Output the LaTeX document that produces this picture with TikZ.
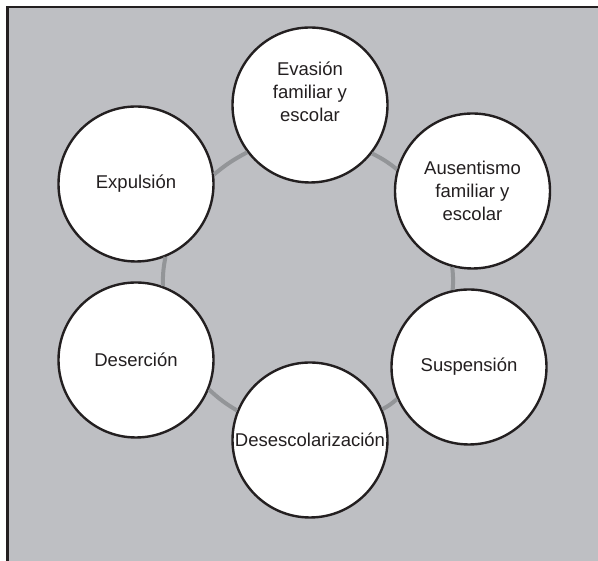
\documentclass[tikz,border=0pt]{standalone}
\usepackage{fontspec}
\setmainfont{Liberation Sans}
\usepackage{xcolor}
\definecolor{panelgray}{HTML}{BEBFC3}
\definecolor{ringgray}{HTML}{939598}
\definecolor{inkdark}{HTML}{231F20}
\tikzset{
  stage/.style={circle, draw=inkdark, fill=white, line width=2.4pt,
    minimum size=155pt, inner sep=0pt, align=center, text=inkdark,
    font=\fontsize{18.5}{23}\selectfont},
  ringlink/.style={draw=ringgray, line width=4pt, bend left=6}
}

\begin{document}
\begin{tikzpicture}[x=1pt, y=1pt]
  \useasboundingbox (0,0) rectangle (598,561);
  \clip (0,0) rectangle (598,561);
  \draw[fill=panelgray, draw=inkdark, line width=2.5pt] (7.3,-10) rectangle (620,554.2);

  \node[stage] (evasion) at (310,456) {Evasión\\familiar y\\escolar\\[3pt]\mbox{}};
  \node[stage] (ausentismo) at (472.5,370) {Ausentismo\\familiar y\\escolar};
  \node[stage] (suspension) at (469,194) {Suspensión};
  \node[stage] (desescolar) at (310,121) {Desescolarización};
  \node[stage] (desercion) at (136,201) {Deserción};
  \node[stage] (expulsion) at (136,377) {Expulsión};

  % ring between the stages
  \draw[ringlink] (evasion.-38) to (ausentismo.164);
  \draw[ringlink] (ausentismo.-105) to (suspension.102);
  \draw[ringlink] (suspension.-156) to (desescolar.23);
  \draw[ringlink] (desescolar.158) to (desercion.-22);
  \draw[ringlink] (desercion.70) to (expulsion.-68);
  \draw[ringlink] (expulsion.7) to (evasion.-143);
\end{tikzpicture}
\end{document}
